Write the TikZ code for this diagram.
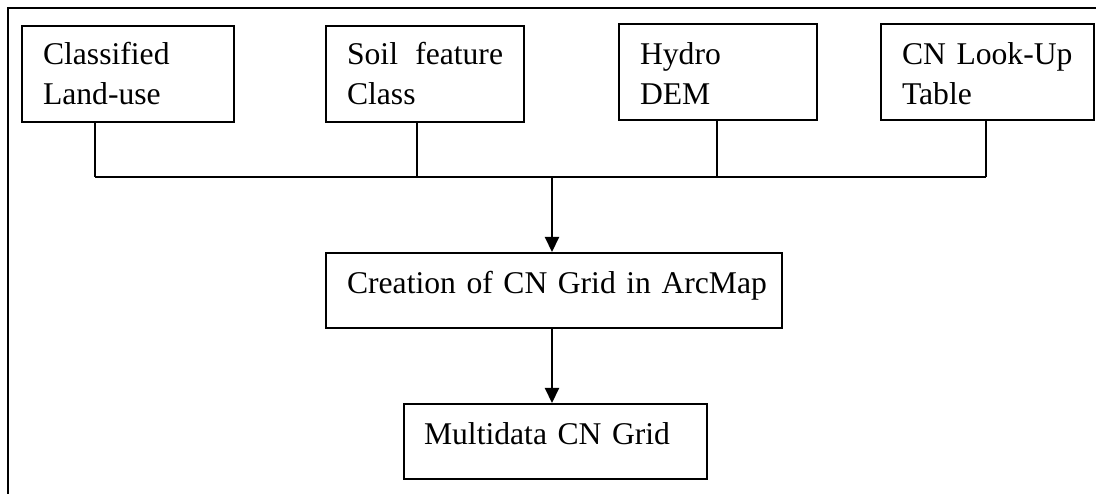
\documentclass[tikz,border=0pt]{standalone}
\usepackage{fontspec}
\setmainfont{Liberation Serif}
\usetikzlibrary{arrows.meta}
\tikzset{
    inbox/.style={draw, line width=0.6pt, anchor=north west, align=left,
        inner xsep=0.21cm, inner ysep=0pt,
        font=\fontsize{9pt}{11.4pt}\selectfont},
    flow/.style={line width=0.6pt, -{Triangle[width=0.14cm,length=0.15cm]}}
}
\begin{document}
\begin{tikzpicture}
            \useasboundingbox (0,0) rectangle (10.96,-4.94);
            % outer frame
            \draw[line width=0.8pt] (0.08,-4.94) -- (0.08,-0.08) -- (10.96,-0.08);
            % inputs
            \node[inbox, text width=1.70cm, text height=0.38cm, text depth=0.58cm] (landuse) at (0.21,-0.25) {\mbox{Classified}\\\mbox{Land-use}};
            \node[inbox, text width=1.56cm, text height=0.38cm, text depth=0.58cm] (soil) at (3.25,-0.25) {Soil\hfill feature\\Class};
            \node[inbox, text width=1.56cm, text height=0.40cm, text depth=0.56cm] (hydro) at (6.18,-0.23) {Hydro\\DEM};
            \node[inbox, text width=1.71cm, text height=0.40cm, text depth=0.56cm] (cnlut) at (8.80,-0.23) {\mbox{CN Look-Up}\\Table};
            % processing
            \node[inbox, text width=4.14cm, text height=0.40cm, text depth=0.35cm] (cngrid) at (3.25,-2.52) {\mbox{Creation of CN Grid in ArcMap}};
            \node[inbox, text width=2.63cm, text height=0.40cm, text depth=0.35cm, inner xsep=0.20cm] (multi) at (4.03,-4.03) {\mbox{Multidata CN Grid}};
            % connectors
            \coordinate (join) at (5.52,-1.77);
            \foreach \src/\x in {landuse/0.95, soil/4.17, hydro/7.17, cnlut/9.86} {
                \draw[line width=0.6pt] (\x,0 |- \src.south) -- (\x,0 |- join);
            }
            \draw[line width=0.6pt] (0.95,0 |- join) -- (9.86,0 |- join);
            \draw[flow] (join) -- (join |- cngrid.north);
            \draw[flow] (join |- cngrid.south) -- (join |- multi.north);
        \end{tikzpicture}
\end{document}
